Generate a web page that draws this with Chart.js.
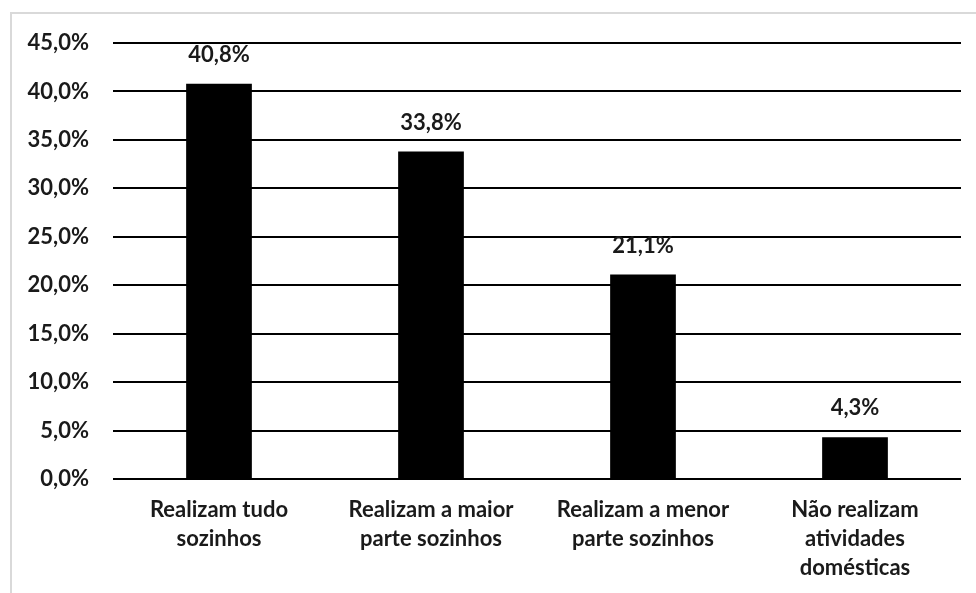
<!doctype html>
<html>
<head>
    <title>Atividades domésticas</title>
    <meta charset="utf-8">
    <style>
        body {
            background: #fff;
            margin: 0;
            overflow: hidden;
        }

        .frame {
            border: 2px solid #d9d9d9;
            box-sizing: border-box;
            height: 640px;
            left: 10px;
            position: absolute;
            top: 12px;
            width: 1000px;
        }

        .output {
            height: 593px;
            left: 0;
            position: absolute;
            top: 0;
            width: 976px;
        }
    </style>
    <script src="https://cdn.jsdelivr.net/npm/chart.js@4/dist/chart.umd.min.js"></script>
</head>
<body>
<div class="frame"></div>
<div class="output">
    <canvas data-output-chart></canvas>
</div>
<script>
    "use strict";

    const categories = [
        ["Realizam tudo", "sozinhos"],
        ["Realizam a maior", "parte sozinhos"],
        ["Realizam a menor", "parte sozinhos"],
        ["Não realizam", "atividades", "domésticas"],
    ];
    const values = [40.8, 33.8, 21.1, 4.3];

    const textColor = "#1a1a1a";
    const fontFamily = "Lato, 'Open Sans', sans-serif";

    function pct(v) {
        return v.toFixed(1).replace(".", ",") + "%";
    }

    // value labels above the bars
    let barLabels = {
        id: "barLabels",
        afterDatasetsDraw(chart) {
            let ctx = chart.ctx;
            let meta = chart.getDatasetMeta(0);
            ctx.save();
            ctx.fillStyle = textColor;
            ctx.font = "bold 22px " + fontFamily;
            ctx.textAlign = "center";
            ctx.textBaseline = "bottom";
            meta.data.forEach(function (bar, i) {
                ctx.fillText(pct(values[i]), bar.x, bar.y - 18);
            });
            ctx.restore();
        },
    };

    new Chart(document.querySelector("[data-output-chart]"), {
        type: "bar",
        data: {
            labels: categories,
            datasets: [{
                data: values,
                backgroundColor: "#000",
                barPercentage: 0.31,
                categoryPercentage: 1,
            }],
        },
        options: {
            responsive: true,
            maintainAspectRatio: false,
            animation: false,
            layout: {
                padding: {top: 43, right: 15, bottom: 0, left: 0},
            },
            plugins: {
                legend: {display: false},
                tooltip: {enabled: false},
            },
            scales: {
                x: {
                    grid: {display: false},
                    border: {display: false},
                    ticks: {
                        color: textColor,
                        font: {family: fontFamily, size: 22, weight: "bold", lineHeight: 1.32},
                        padding: 8,
                        maxRotation: 0,
                    },
                    afterFit(scale) {
                        scale.height = 114;
                    },
                },
                y: {
                    min: 0,
                    max: 45,
                    grid: {color: "#000", lineWidth: 2, drawTicks: false},
                    border: {display: false},
                    ticks: {
                        stepSize: 5,
                        color: textColor,
                        font: {family: fontFamily, size: 22, weight: "bold"},
                        padding: 24,
                        callback: function (v) {
                            return pct(v);
                        },
                    },
                    afterFit(scale) {
                        scale.width = 113;
                    },
                },
            },
        },
        plugins: [barLabels],
    });
</script>
</body>
</html>
